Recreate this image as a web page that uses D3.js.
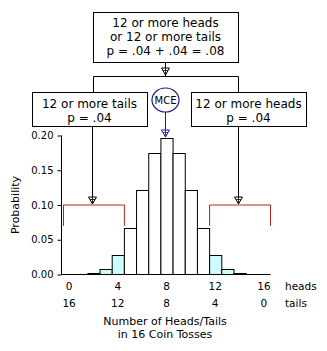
<!DOCTYPE html>
<html><head><meta charset="utf-8">
<script src="https://cdn.jsdelivr.net/npm/d3@7"></script>
<style>
html,body{margin:0;padding:0;background:#fff;}
svg{display:block;}
</style></head>
<body>
<svg id="c" width="327" height="351"></svg>
<script>
// ---- data ----
const heads = [0,1,2,3,4,5,6,7,8,9,10,11,12,13,14,15,16];
const probability = [0.0000153,0.000244,0.00183,0.00854,0.0278,0.0667,0.1222,0.1746,0.1964,0.1746,0.1222,0.0667,0.0278,0.00854,0.00183,0.000244,0.0000153];
const tailRegion = [true,true,true,true,true,false,false,false,false,false,false,false,true,true,true,true,true];
const yTicks = [0,0.05,0.10,0.15,0.20];
const headTicks = [0,4,8,12,16];
const tailTicks = [16,12,8,4,0];
const topLines = ["12 or more heads","or 12 or more tails","p = .04 + .04 = .08"];
const leftLines = ["12 or more tails","p = .04"];
const rightLines = ["12 or more heads","p = .04"];

const svg = d3.select("#c");
const font = "'DejaVu Sans', Verdana, sans-serif";

const x = d3.scaleLinear().domain([-0.5,16.5]).range([63,270]);
const y = d3.scaleLinear().domain([0,0.2]).range([274.5,135.5]);

// bars
svg.append("g").selectAll("rect").data(heads).join("rect")
  .attr("x", d=>x(d-0.5)+0.5)
  .attr("y", (d,i)=>Math.round(y(probability[i]))+0.5)
  .attr("width", d=>x(d+0.5)-x(d-0.5))
  .attr("height", (d,i)=>Math.max(0, y(0)-Math.round(y(probability[i]))-0.5))
  .attr("fill", (d,i)=>tailRegion[i]?"#ccfcfc":"#fff")
  .attr("stroke","#000").attr("stroke-width",1);

// y axis
const yAxis = d3.axisLeft(y).tickValues(yTicks).tickFormat(d3.format(".2f")).tickSize(4).tickSizeOuter(0);
const gy = svg.append("g").attr("transform","translate(61.5,0)").call(yAxis);
gy.select(".domain").attr("d", `M0,${y(0.2)}V${y(0)}`);
gy.selectAll("text").attr("font-family",font).attr("font-size",10).attr("fill","#000").attr("dx",-1);

// x axis line
svg.append("line").attr("x1",x(-0.65)).attr("x2",x(16.55)).attr("y1",y(0)).attr("y2",y(0)).attr("stroke","#000");

// x labels
svg.append("g").selectAll("text").data(headTicks).join("text")
  .attr("x",d=>x(d)).attr("y",290).attr("text-anchor","middle")
  .attr("font-family",font).attr("font-size",10.5).text(d=>d);
svg.append("g").selectAll("text").data(tailTicks).join("text")
  .attr("x",(d,i)=>x(headTicks[i])).attr("y",307).attr("text-anchor","middle")
  .attr("font-family",font).attr("font-size",10.5).text(d=>d);
svg.append("text").attr("x",285).attr("y",290).attr("font-family",font).attr("font-size",10.5).text("heads");
svg.append("text").attr("x",285).attr("y",307).attr("font-family",font).attr("font-size",10.5).text("tails");
svg.append("text").attr("x",165).attr("y",325).attr("text-anchor","middle").attr("font-family",font).attr("font-size",11).text("Number of Heads/Tails");
svg.append("text").attr("x",165).attr("y",338).attr("text-anchor","middle").attr("font-family",font).attr("font-size",11).text("in 16 Coin Tosses");
svg.append("text").attr("transform",`translate(19,${y(0.1)}) rotate(-90)`).attr("text-anchor","middle")
  .attr("font-family",font).attr("font-size",11).text("Probability");

// helpers
function tri(cx, tipY, color){
  const g = svg.append("g");
  g.append("path").attr("d",`M${cx-4},${tipY-7}L${cx+4},${tipY-7}L${cx},${tipY}Z`)
    .attr("fill","#fff").attr("stroke",color).attr("stroke-width",1);
  g.append("path").attr("d",`M${cx-2.5},${tipY-4.5}L${cx+2.5},${tipY-4.5}M${cx-1},${tipY-2}L${cx+1},${tipY-2}M${cx},${tipY-7}V${tipY}`)
    .attr("stroke",color).attr("stroke-width",0.8).attr("fill","none");
}
function box(x0,y0,x1,y1,lines,baselines){
  svg.append("rect").attr("x",x0+0.5).attr("y",y0+0.5).attr("width",x1-x0).attr("height",y1-y0)
    .attr("fill","#fff").attr("stroke","#000");
  lines.forEach((t,i)=>svg.append("text").attr("x",(x0+x1)/2).attr("y",baselines[i])
    .attr("text-anchor","middle").attr("font-family",font).attr("font-size",12).text(t));
}

// top box and connectors
box(93,12,238,62,topLines,[27,41,55]);
svg.append("path").attr("d","M165.5,62V76").attr("stroke","#000");
tri(165.5,75,"#000");
svg.append("path").attr("d","M93.5,92V76.5H238.5V92").attr("stroke","#000").attr("fill","none");
box(32,92,147,126,leftLines,[108,122]);
box(191,92,306,126,rightLines,[108,122]);

// arrows to brackets
const red = "#b22222";
svg.append("path").attr("d",`M92.5,126V${y(0.1)-1}`).attr("stroke","#000");
tri(92.5,y(0.1)-1,"#000");
svg.append("path").attr("d",`M238.5,126V${y(0.1)-1}`).attr("stroke","#000");
tri(238.5,y(0.1)-1,"#000");
svg.append("path").attr("d",`M${x(-0.5)+0.5},${y(0.07)}V${y(0.1)}H${x(4.5)+0.5}V${y(0.07)}`).attr("stroke",red).attr("fill","none");
svg.append("path").attr("d",`M${x(11.5)+0.5},${y(0.07)}V${y(0.1)}H${x(16.5)+0.5}V${y(0.07)}`).attr("stroke",red).attr("fill","none");

// MCE
const navy = "#1c1c8c";
svg.append("ellipse").attr("cx",165.5).attr("cy",100).attr("rx",13.5).attr("ry",12).attr("fill","#fff").attr("stroke",navy).attr("stroke-width",1.2);
svg.append("text").attr("x",165.5).attr("y",104).attr("text-anchor","middle").attr("font-family",font).attr("font-size",10).text("MCE");
svg.append("path").attr("d",`M165.5,112V${y(0.1964)-1}`).attr("stroke",navy);
tri(165.5,y(0.1964)-1,navy);
</script>
</body></html>
